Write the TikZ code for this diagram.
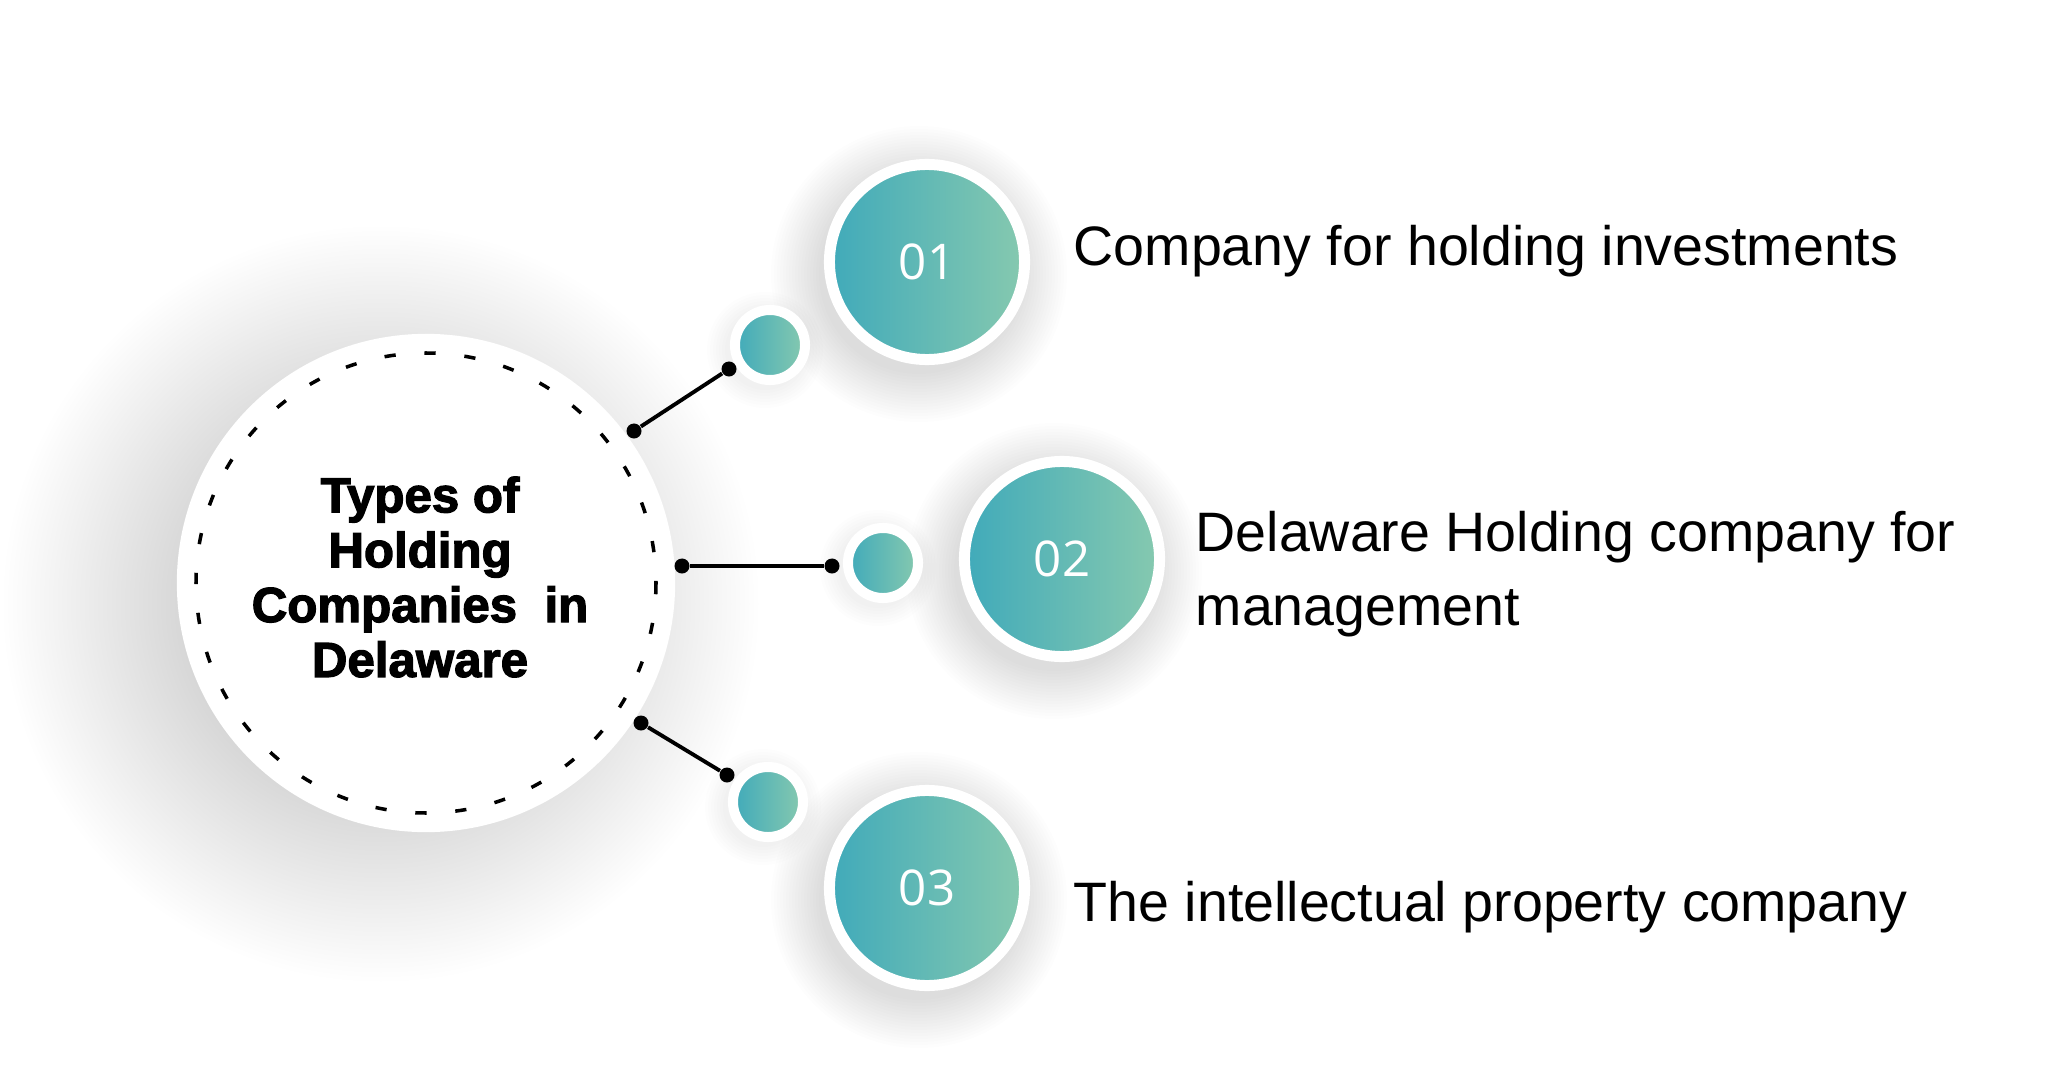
\documentclass[tikz,border=0pt]{standalone}
\usepackage{fontspec}
\setmainfont{Liberation Sans}
\newfontfamily\headfont[FakeBold=2.5]{Liberation Sans}
\newfontfamily\numfont{Open Sans}
\usetikzlibrary{calc}
\definecolor{tealA}{RGB}{64,170,186}
\definecolor{mintA}{RGB}{134,201,175}
\tikzstyle{link} = [line width=1.1pt, black]
\tikzstyle{dot} = [circle, fill=black, minimum size=0.15cm, inner sep=0pt]
\tikzstyle{bignum} = [circle, draw=white, line width=0.11cm, minimum size=1.95cm, inner sep=0pt, left color=tealA, right color=mintA, text=white, font=\numfont\fontsize{14}{16}\selectfont]
\tikzstyle{smallnum} = [circle, draw=white, line width=0.1cm, minimum size=0.7cm, inner sep=0pt, left color=tealA, right color=mintA]
\tikzstyle{itemtext} = [inner sep=0pt, align=left, font=\fontsize{15.8}{21}\selectfont]

\begin{document}
\begin{tikzpicture}[x=0.01cm, y=-0.01cm]
        \useasboundingbox (0,0) rectangle (2048,1079);

        % soft shadows
        \foreach \r in {0,...,45}
          \fill[black, opacity=0.0045] (381,604) circle ({175+\r*4.5});
        \foreach \c in {(919,274), (1054,571), (919,900)}
          \foreach \r in {0,...,16}
            \fill[black, opacity=0.006] \c circle ({100+\r*3});
        \foreach \c in {(765,350), (878,568), (763,807)}
          \foreach \r in {0,...,6}
            \fill[black, opacity=0.007] \c circle ({40+\r*3});

        % hub
        \node[circle, fill=white, minimum size=4.98cm, inner sep=0pt] (hub) at (426,583) {};
        \draw[line width=1pt, dash pattern=on 3.2pt off 8.2pt] (hub.center) circle (230);
        \node[align=center, font=\headfont\bfseries\fontsize{14}{15.6}\selectfont] (title) at (420,577)
          {Types of\\Holding\\Companies\ \ in\\Delaware};

        % numbered circles
        \node[bignum] (n1) at (927,262) {01};
        \node[bignum] (n2) at (1062,559) {02};
        \node[bignum] (n3) at (927,888) {03};
        \node[smallnum] (s1) at (770,345) {};
        \node[smallnum] (s2) at (883,563) {};
        \node[smallnum] (s3) at (768,802) {};

        % connectors
        \node[dot] (p1) at (634,431) {};
        \node[dot] (q1) at (729,369) {};
        \node[dot] (p2) at (682,566) {};
        \node[dot] (q2) at (832,566) {};
        \node[dot] (p3) at (641,723) {};
        \node[dot] (q3) at (727,775) {};
        \draw[link] (p1) -- (q1);
        \draw[link] (p2) -- (q2);
        \draw[link] (p3) -- (q3);

        % texts
        \node[itemtext, anchor=base west] (t1) at (1073,265) {Company for holding investments};
        \node[itemtext, anchor=north west] (t2) at (1195,511) {Delaware Holding company for\\management};
        \node[itemtext, anchor=base west] (t3) at (1073,921) {The intellectual property company};
\end{tikzpicture}
\end{document}
